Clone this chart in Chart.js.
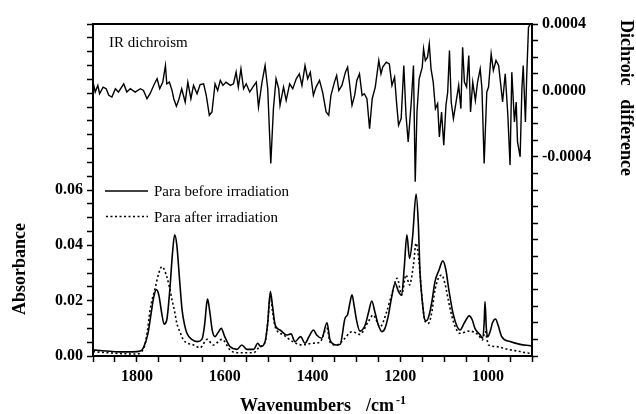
<!DOCTYPE html>
<html>
<head>
<meta charset="utf-8">
<script src="https://cdn.jsdelivr.net/npm/chart.js@4"></script>
<style>
  html, body { margin: 0; padding: 0; background: #fff; }
  #wrap { width: 636px; height: 414px; }
</style>
</head>
<body>
<div id="wrap"><canvas id="irChart" width="636" height="414"></canvas></div>
<script>
// Wavenumber tick labels (cm-1) and y tick labels
const xTickLabels = [1800, 1600, 1400, 1200, 1000];
const absTickLabels = [0, 0.02, 0.04, 0.06];
const dichroTickLabels = [4, 0, -4]; // in units of 1e-4

// Absorbance, before irradiation
const beforeWn = [1900, 1870, 1840, 1810, 1792, 1785, 1775, 1768, 1762, 1756, 1750, 1744, 1738, 1732, 1725, 1719, 1714, 1709, 1703, 1697,
  1691, 1686, 1675, 1663, 1652, 1646, 1641, 1639, 1634, 1628, 1622, 1615, 1608, 1600, 1588, 1572, 1561, 1549, 1534, 1525,
  1518, 1508, 1502, 1496, 1491, 1485, 1474, 1459, 1449, 1440, 1427, 1417, 1408, 1398, 1390, 1379, 1367, 1360, 1345, 1337,
  1326, 1320, 1315, 1310, 1305, 1299, 1292, 1280, 1272, 1265, 1258, 1250, 1242, 1235, 1227, 1220, 1212, 1204, 1197, 1191,
  1185, 1179, 1172, 1164, 1159, 1155, 1150, 1144, 1140, 1134, 1128, 1121, 1112, 1103, 1096, 1090, 1079, 1064, 1054, 1043,
  1036, 1030, 1018, 1013, 1009, 1007, 1004, 1001, 995, 990, 983, 977, 969, 950, 927, 904, 900];
const beforeAbs = [0.0022, 0.0018, 0.0015, 0.0015, 0.0018, 0.003, 0.008, 0.015, 0.021, 0.024, 0.022, 0.016, 0.0115, 0.013, 0.024, 0.037, 0.0438, 0.040, 0.028, 0.0166,
  0.011, 0.0082, 0.006, 0.0052, 0.006, 0.011, 0.019, 0.0206, 0.016, 0.009, 0.007, 0.0085, 0.010, 0.007, 0.0034, 0.0024, 0.004, 0.0024, 0.0024, 0.0046,
  0.0034, 0.0052, 0.012, 0.0233, 0.018, 0.0112, 0.0094, 0.0076, 0.008, 0.0052, 0.007, 0.0046, 0.007, 0.0094, 0.0075, 0.0064, 0.012, 0.0058, 0.004, 0.0042,
  0.0136, 0.015, 0.019, 0.0221, 0.018, 0.0124, 0.009, 0.0112, 0.016, 0.0199, 0.016, 0.0112, 0.0088, 0.010, 0.0148, 0.021, 0.0263, 0.0233, 0.022, 0.032,
  0.0438, 0.0353, 0.043, 0.0585, 0.048, 0.030, 0.020, 0.013, 0.0128, 0.015, 0.0197, 0.0269, 0.031, 0.0344, 0.031, 0.0245, 0.0148, 0.0094, 0.012, 0.0145,
  0.013, 0.010, 0.0076, 0.0064, 0.012, 0.0197, 0.010, 0.007, 0.009, 0.012, 0.0134, 0.011, 0.007, 0.0052, 0.0042, 0.0037, 0.0036];

// Absorbance, after irradiation
const afterWn = [1900, 1850, 1800, 1790, 1783, 1776, 1770, 1758, 1750, 1743, 1737, 1732, 1726, 1720, 1714, 1709, 1700, 1694, 1671, 1656,
  1640, 1626, 1606, 1588, 1572, 1534, 1520, 1508, 1502, 1496, 1491, 1485, 1466, 1443, 1424, 1401, 1383, 1367, 1360, 1345,
  1330, 1310, 1292, 1273, 1262, 1246, 1231, 1220, 1207, 1197, 1187, 1179, 1170, 1164, 1158, 1150, 1144, 1136, 1128, 1121,
  1106, 1098, 1090, 1079, 1064, 1043, 1022, 1013, 1007, 999, 980, 958, 927, 904, 900];
const afterAbs = [0.0016, 0.0010, 0.0007, 0.0015, 0.0034, 0.009, 0.0166, 0.0248, 0.030, 0.0323, 0.031, 0.0287, 0.025, 0.0203, 0.016, 0.0118, 0.008, 0.0058, 0.004, 0.003,
  0.006, 0.004, 0.006, 0.0022, 0.0012, 0.0012, 0.0034, 0.005, 0.012, 0.022, 0.016, 0.0106, 0.0076, 0.005, 0.004, 0.0046, 0.005, 0.010, 0.005, 0.004,
  0.0058, 0.0088, 0.0078, 0.0124, 0.0148, 0.0106, 0.016, 0.022, 0.0281, 0.022, 0.0293, 0.0257, 0.033, 0.0408, 0.035, 0.020, 0.0127, 0.0118, 0.016, 0.0239,
  0.0293, 0.026, 0.0197, 0.0124, 0.0082, 0.009, 0.0076, 0.0058, 0.0088, 0.004, 0.0034, 0.0025, 0.0016, 0.001, 0.001];

// IR dichroism (dichroic difference, units of 1e-4)
const dichroWn = [1900, 1899, 1895, 1889, 1885, 1877, 1870, 1864, 1857, 1849, 1842, 1830, 1823, 1815, 1804, 1792, 1785, 1777, 1770, 1760,
  1754, 1748, 1741, 1735, 1732, 1726, 1720, 1716, 1710, 1705, 1698, 1690, 1684, 1677, 1671, 1663, 1656, 1648, 1642, 1635,
  1629, 1622, 1616, 1610, 1604, 1597, 1587, 1580, 1574, 1569, 1563, 1557, 1551, 1543, 1536, 1528, 1523, 1515, 1508, 1502,
  1495, 1489, 1483, 1477, 1474, 1466, 1460, 1452, 1445, 1437, 1430, 1424, 1417, 1411, 1405, 1398, 1392, 1384, 1377, 1369,
  1363, 1358, 1350, 1345, 1340, 1333, 1325, 1320, 1316, 1310, 1304, 1299, 1293, 1287, 1282, 1276, 1270, 1264, 1257, 1249,
  1244, 1240, 1232, 1225, 1219, 1213, 1208, 1204, 1198, 1192, 1187, 1182, 1175, 1170, 1166, 1162, 1157, 1150, 1147, 1143,
  1138, 1134, 1130, 1125, 1120, 1115, 1111, 1106, 1101, 1096, 1092, 1088, 1084, 1079, 1073, 1067, 1062, 1058, 1054, 1049,
  1044, 1040, 1035, 1029, 1024, 1018, 1014, 1009, 1003, 999, 993, 988, 982, 976, 971, 967, 961, 955, 950, 946,
  940, 936, 933, 927, 923, 920, 915, 912, 908, 904];
const dichroVal = [0.1, 0.4, -0.1, 0.3, -0.2, 0.2, 0.1, -0.3, -0.4, 0.1, -0.1, 0.4, -0.1, 0.1, -0.1, 0.1, 0, -0.5, -0.2, 0.4,
  0.7, 0.1, 0.5, 1.5, 0.4, 0.5, 0, -0.5, -0.95, -0.6, 0.1, -0.7, 0.5, -0.5, 0.3, -0.2, 0.35, 0.4, -0.3, -1.5,
  -1.3, 0.4, 0, 0.6, 0.3, 0.5, 0.3, 0.4, 1.1, 0.2, 1.3, 0.1, 0.4, -0.1, 0.2, 0.5, -1.0, 0.5, 1.5, 0.1,
  -4.4, -1.1, 0.7, 0.1, -0.9, 0.2, -0.6, 0.4, 0.1, 0.7, 1.0, 0.3, 1.5, 0.7, 1.1, -0.3, 0.2, 0.6, -0.1, -1.3,
  -1.5, -0.3, 0.5, 0.9, 0, 0.3, 1.1, 1.4, 0.5, -0.9, -0.3, 0.6, 1.0, -0.3, -0.2, -0.5, -2.3, -0.5, 0.2, 1.8,
  1.0, 1.4, 1.7, 1.6, 0.3, 0.8, -0.9, -2.1, -1.7, 1.5, -1.5, -3.1, -0.7, 1.5, -5.5, -1.3, 0.7, 1.4, 2.5, 1.8,
  2.0, 2.8, 1.3, 0.5, -1.1, -0.8, -2.8, -1.3, -3.3, -0.9, -0.1, 2.4, -0.7, -1.7, -0.7, 0.3, -1.1, 2.6, 0.5, 0.2,
  2.1, -1.3, 0.5, -0.6, 0.5, 1.3, 0.1, -4.4, -0.1, 0.2, 2.2, 1.2, 1.8, 1.5, 0.3, -0.7, 1.0, -1.5, -4.5, 1.1,
  -1.9, -0.7, -3.1, -4.0, 0.1, 1.5, -1.9, 0.9, 3.8, 4.0];

const SERIF = '"Liberation Serif", "Times New Roman", serif';

function toPoints(xs, ys) {
  return xs.map((x, i) => ({ x: x, y: ys[i] }));
}

const tickFont = { family: SERIF, size: 16, weight: 'bold' };
const tickGrid = { drawOnChartArea: false, drawTicks: true, tickLength: 6, tickColor: '#000', tickWidth: 1.5 };
const axisBorder = { display: true, color: '#000', width: 2 };

// Texts placed by hand: panel label, legend, axis titles
const annotations = {
  id: 'annotations',
  afterDraw(chart) {
    const c = chart.ctx;
    c.save();
    c.fillStyle = '#000';
    c.strokeStyle = '#000';
    c.textBaseline = 'alphabetic';

    c.font = '15px ' + SERIF;
    c.fillText('IR dichroism', 109, 47);

    // legend
    c.lineWidth = 1.5;
    c.beginPath();
    c.moveTo(105, 191);
    c.lineTo(148, 191);
    c.stroke();
    c.fillText('Para before irradiation', 154, 195.5);

    c.setLineDash([2, 2.5]);
    c.beginPath();
    c.moveTo(106, 216.5);
    c.lineTo(148, 216.5);
    c.stroke();
    c.setLineDash([]);
    c.fillText('Para after irradiation', 154, 221.5);

    // axis titles
    c.font = 'bold 18px ' + SERIF;
    c.save();
    c.translate(25, 269);
    c.rotate(-Math.PI / 2);
    c.textAlign = 'center';
    c.fillText('Absorbance', 0, 0);
    c.restore();

    c.save();
    c.translate(621, 98);
    c.rotate(Math.PI / 2);
    c.textAlign = 'center';
    c.fillText('Dichroic   difference', 0, 0);
    c.restore();

    c.fillText('Wavenumbers', 240, 411);
    c.fillText('/cm', 366, 411);
    const w = c.measureText('/cm').width;
    c.font = 'bold 12px ' + SERIF;
    c.fillText('-1', 366 + w + 2, 404);

    c.restore();
  }
};

new Chart(document.getElementById('irChart'), {
  type: 'line',
  data: {
    datasets: [
      {
        label: 'IR dichroism',
        data: toPoints(dichroWn, dichroVal),
        xAxisID: 'x', yAxisID: 'y2',
        borderColor: '#000', borderWidth: 1.4,
        pointRadius: 0, tension: 0
      },
      {
        label: 'Para before irradiation',
        data: toPoints(beforeWn, beforeAbs),
        xAxisID: 'x', yAxisID: 'y',
        borderColor: '#000', borderWidth: 1.6,
        pointRadius: 0, cubicInterpolationMode: 'monotone'
      },
      {
        label: 'Para after irradiation',
        data: toPoints(afterWn, afterAbs),
        xAxisID: 'x', yAxisID: 'y',
        borderColor: '#000', borderWidth: 1.6, borderDash: [2, 2.5],
        pointRadius: 0, cubicInterpolationMode: 'monotone'
      }
    ]
  },
  options: {
    responsive: false,
    animation: false,
    layout: { padding: 0 },
    plugins: {
      legend: { display: false },
      tooltip: { enabled: false }
    },
    scales: {
      x: {
        type: 'linear', position: 'bottom', reverse: true,
        min: 900, max: 1900,
        afterFit: (s) => { s.height = 58; },
        ticks: {
          stepSize: 50, autoSkip: false, maxRotation: 0, padding: 5,
          color: '#000', font: tickFont,
          callback: (v) => xTickLabels.includes(v) ? String(v) : ''
        },
        grid: tickGrid,
        border: axisBorder
      },
      x2: {
        type: 'linear', position: 'top', reverse: true,
        min: 900, max: 1900,
        afterFit: (s) => { s.height = 24; },
        ticks: { display: false },
        grid: { drawOnChartArea: false, drawTicks: false },
        border: axisBorder
      },
      y: {
        type: 'linear', position: 'left',
        min: 0, max: 0.12,
        afterFit: (s) => { s.width = 93; },
        ticks: {
          stepSize: 0.005, autoSkip: false, padding: 4,
          color: '#000', font: tickFont,
          callback: (v) => absTickLabels.some(t => Math.abs(t - v) < 1e-9) ? v.toFixed(2) : ''
        },
        grid: tickGrid,
        border: axisBorder
      },
      y2: {
        type: 'linear', position: 'right',
        min: -16, max: 4,
        afterFit: (s) => { s.width = 104; },
        ticks: {
          stepSize: 1, autoSkip: false, padding: 4,
          color: '#000', font: tickFont,
          callback: (v) => dichroTickLabels.some(t => Math.abs(t - v) < 1e-9) ? (v * 1e-4).toFixed(4) : ''
        },
        grid: tickGrid,
        border: axisBorder
      }
    }
  },
  plugins: [annotations]
});
</script>
</body>
</html>
